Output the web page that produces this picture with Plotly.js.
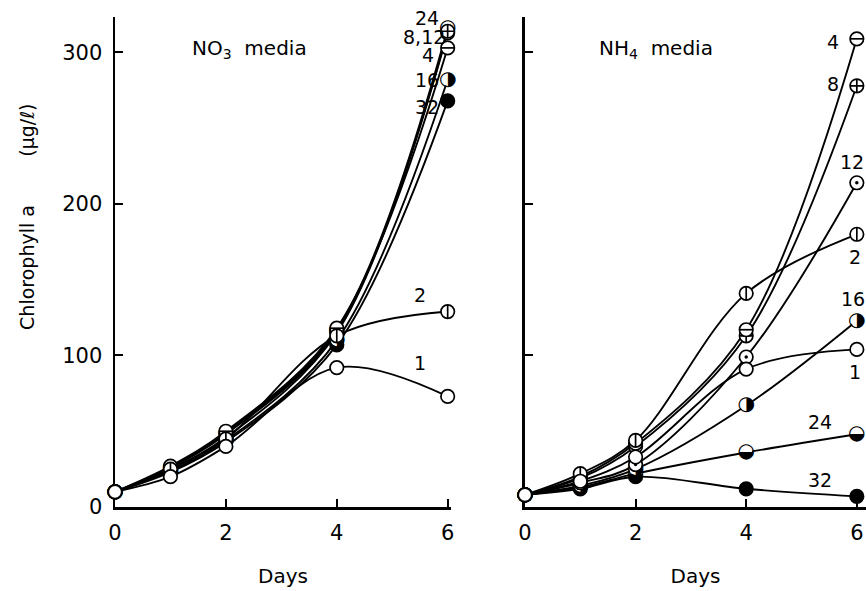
<!DOCTYPE html>
<html>
<head>
<meta charset="utf-8">
<script src="https://cdn.plot.ly/plotly-3.0.1.min.js"></script>
<style>html,body{margin:0;padding:0;background:#fff;}#chart{width:866px;height:591px;}</style>
</head>
<body>
<div id="chart"></div>
<script>
// ---- data ----
const days = [0, 1, 2, 4, 6];
const seriesNames = ['1', '2', '4', '8', '12', '16', '24', '32'];

// NO3 media (left panel), chlorophyll a (µg/l)
const no3S1  = [10, 20, 40, 92, 73];
const no3S2  = [10, 25, 45, 113, 129];
const no3S4  = [10, 27, 50, 118, 303];
const no3S8  = [10, 26, 48, 116, 314];
const no3S12 = [10, 25, 46, 115, 313];
const no3S16 = [10, 24, 44, 110, 282];
const no3S24 = [10, 26, 49, 117, 316];
const no3S32 = [10, 23, 43, 107, 268];

// NH4 media (right panel)
const nh4S1  = [8, 17, 33, 91, 104];
const nh4S2  = [8, 22, 44, 141, 180];
const nh4S4  = [8, 20, 42, 117, 309];
const nh4S8  = [8, 19, 40, 113, 278];
const nh4S12 = [8, 16, 28, 99, 214];
const nh4S16 = [8, 14, 25, 67, 123];
const nh4S24 = [8, 13, 22, 36, 48];
const nh4S32 = [8, 12, 20, 12, 7];

const yTickVals = [0, 100, 200, 300];
const yTickText = ['0', '100', '200', '300'];
const xTickVals = [0, 2, 4, 6];
const xTickText = ['0', '2', '4', '6'];

// series labels: [text, x, y]
const no3Labels = [['24', 5.62, 323], ['8,12', 5.58, 310], ['4', 5.65, 298], ['16', 5.62, 282], ['32', 5.62, 264], ['2', 5.5, 140], ['1', 5.5, 95]];
const nh4Labels = [['4', 5.57, 307], ['8', 5.57, 279], ['12', 5.92, 228], ['2', 5.97, 165], ['16', 5.93, 137], ['1', 5.97, 89], ['24', 5.33, 56], ['32', 5.33, 18]];

// ---- drawing ----
const FONT = 'DejaVu Sans, Arial, sans-serif';
const no3Series = [no3S1, no3S2, no3S4, no3S8, no3S12, no3S16, no3S24, no3S32];
const nh4Series = [nh4S1, nh4S2, nh4S4, nh4S8, nh4S12, nh4S16, nh4S24, nh4S32];

// marker decoration by series index
const deco = [
  null,
  {kind: 'sym', symbol: 'line-ns-open', size: 9.5},
  {kind: 'sym', symbol: 'line-ew-open', size: 9.5},
  {kind: 'sym', symbol: 'cross-thin-open', size: 9.5},
  {kind: 'dot'},
  {kind: 'glyph', ch: '\u25D1'},
  {kind: 'glyph', ch: '\u25D2'},
  {kind: 'filled'}
];

const MS = 13.5;
function buildTraces(series, xa, ya) {
  const lines = [], marks = [];
  series.forEach((vals, i) => {
    lines.push({x: days, y: vals, xaxis: xa, yaxis: ya, mode: 'lines', type: 'scatter',
      line: {color: '#000', width: 1.9, shape: 'spline', smoothing: 1}, hoverinfo: 'skip', showlegend: false});
  });
  // markers drawn from the last series to the first, so the open circle (1) ends up on top
  for (let i = series.length - 1; i >= 0; i--) {
    const vals = series[i];
    const d = deco[i];
    const isGlyph = d && d.kind === 'glyph';
    marks.push({x: days, y: vals, xaxis: xa, yaxis: ya, mode: 'markers', type: 'scatter', cliponaxis: false,
      marker: {symbol: 'circle', size: isGlyph ? MS - 1.5 : MS,
        color: d && d.kind === 'filled' ? '#000' : '#fff',
        line: {color: '#000', width: isGlyph ? 0 : 1.7}}, hoverinfo: 'skip', showlegend: false});
    if (d && d.kind === 'sym') {
      marks.push({x: days, y: vals, xaxis: xa, yaxis: ya, mode: 'markers', type: 'scatter', cliponaxis: false,
        marker: {symbol: d.symbol, size: d.size, color: '#000', line: {color: '#000', width: 1.7}}, hoverinfo: 'skip', showlegend: false});
    } else if (d && d.kind === 'dot') {
      marks.push({x: days, y: vals, xaxis: xa, yaxis: ya, mode: 'markers', type: 'scatter', cliponaxis: false,
        marker: {symbol: 'circle', size: 3.5, color: '#000', line: {width: 0}}, hoverinfo: 'skip', showlegend: false});
    } else if (isGlyph) {
      marks.push({x: days, y: vals, xaxis: xa, yaxis: ya, mode: 'text', type: 'scatter', cliponaxis: false,
        text: vals.map(() => d.ch), textposition: 'middle center',
        textfont: {family: 'DejaVu Sans', size: 20, color: '#000'}, hoverinfo: 'skip', showlegend: false});
    }
  }
  return lines.concat(marks);
}

const traces = buildTraces(no3Series, 'x', 'y').concat(buildTraces(nh4Series, 'x2', 'y2'));

function labelAnns(labels, xr, yr) {
  return labels.map(l => ({text: l[0], x: l[1], y: l[2], xref: xr, yref: yr, showarrow: false,
    xanchor: 'center', yanchor: 'middle', font: {family: FONT, size: 19, color: '#000'}}));
}

const axisCommon = {
  showline: true, linecolor: '#000', linewidth: 2.5, showgrid: false, zeroline: false,
  ticks: 'inside', ticklen: 8, tickwidth: 2, tickcolor: '#000', layer: 'below traces',
  tickfont: {family: FONT, size: 21, color: '#000'}, fixedrange: true
};

const layout = {
  width: 866, height: 591,
  margin: {l: 115, r: 0, t: 17, b: 84},
  paper_bgcolor: '#fff', plot_bgcolor: '#fff',
  showlegend: false,
  font: {family: FONT, color: '#000'},
  xaxis: Object.assign({}, axisCommon, {domain: [0, 0.4474], range: [0, 6.06], tickvals: xTickVals, ticktext: xTickText,
    anchor: 'y', ticklabelstandoff: 5,
    title: {text: 'Days', font: {family: FONT, size: 20, color: '#000'}, standoff: 26}}),
  yaxis: Object.assign({}, axisCommon, {domain: [0, 1], range: [0, 323.4], tickvals: yTickVals, ticktext: yTickText,
    anchor: 'x', ticklabelstandoff: 6}),
  xaxis2: Object.assign({}, axisCommon, {domain: [0.5459, 1], range: [0, 6.166], tickvals: xTickVals, ticktext: xTickText,
    anchor: 'y2', ticklabelstandoff: 5,
    title: {text: 'Days', font: {family: FONT, size: 20, color: '#000'}, standoff: 26}}),
  yaxis2: Object.assign({}, axisCommon, {domain: [0, 1], range: [0, 323.4], tickvals: yTickVals, showticklabels: false,
    anchor: 'x2'}),
  annotations: [
    {text: 'NO<sub>3</sub>\u00a0\u00a0media', x: 1.35, y: 302, xref: 'x', yref: 'y', xanchor: 'left', yanchor: 'middle',
      showarrow: false, font: {family: FONT, size: 20, color: '#000'}},
    {text: 'NH<sub>4</sub>\u00a0\u00a0media', x: 1.3, y: 302, xref: 'x2', yref: 'y2', xanchor: 'left', yanchor: 'middle',
      showarrow: false, font: {family: FONT, size: 20, color: '#000'}},
    {text: 'Chlorophyll a' + '\u00a0'.repeat(8) + '(\u00b5g/\u2113)', x: -0.1172, y: 0.592, xref: 'paper', yref: 'paper',
      textangle: -90, xanchor: 'center', yanchor: 'middle', showarrow: false, font: {family: FONT, size: 19, color: '#000'}}
  ].concat(labelAnns(no3Labels, 'x', 'y'), labelAnns(nh4Labels, 'x2', 'y2'))
};

Plotly.newPlot('chart', traces, layout, {displayModeBar: false, staticPlot: true});
</script>
</body>
</html>
